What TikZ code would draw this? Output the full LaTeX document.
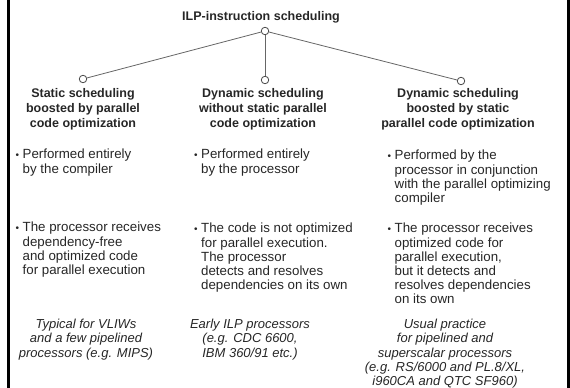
\documentclass[tikz,border=0pt]{standalone}
\usepackage{fontspec}
\setmainfont{Liberation Sans}
\newcommand\bdot{\makebox[7pt][l]{\raisebox{0.6pt}{\scalebox{0.75}{\textbullet}}}}
\newcommand\bind{\hspace*{7pt}}
\tikzset{
  knot/.style={circle,draw=black!70,fill=white,line width=0.8pt,minimum size=7.5pt,inner sep=0pt},
  head/.style={font=\fontsize{12.5}{15}\selectfont\bfseries,text=black!85,align=center,anchor=north,inner sep=0pt},
  point/.style={font=\fontsize{13.3}{14.2}\selectfont,text=black!85,align=left,anchor=north west,inner sep=0pt},
  note/.style={font=\fontsize{13}{14.2}\selectfont\itshape,text=black!85,align=center,anchor=north,inner sep=0pt},
  branch/.style={draw=black!60,line width=0.8pt}
}
\begin{document}
\begin{tikzpicture}[x=1pt,y=-1pt]
    \useasboundingbox (0,0) rectangle (570,388);
    %Frame
    \draw[line width=2.7pt] (8.2,0) -- (8.2,388);
    \draw[line width=3pt] (568.5,0) -- (568.5,388);

    %Nodes
    \node[head] (title) at (261,11.5) {ILP-instruction scheduling};
    \node[knot] (root) at (265,31) {};
    \node[knot] (k1)   at (83,79)  {};
    \node[knot] (k2)   at (265,80) {};
    \node[knot] (k3)   at (461,81) {};
    \node[head] (h1) at (83,88.5)  {Static scheduling\\boosted by parallel\\code optimization};
    \node[head] (h2) at (263,88.5) {Dynamic scheduling\\without static parallel\\code optimization};
    \node[head] (h3) at (458,88.5) {Dynamic scheduling\\boosted by static\\parallel code optimization};

    \node[point] (p1a) at (15.5,149)  {\bdot Performed entirely\\\bind by the compiler};
    \node[point] (p1b) at (15.5,222)  {\bdot The processor receives\\\bind dependency-free\\\bind and optimized code\\\bind for parallel execution};
    \node[point] (p2a) at (194,149) {\bdot Performed entirely\\\bind by the processor};
    \node[point] (p2b) at (194,223) {\bdot The code is not optimized\\\bind for parallel execution.\\\bind The processor\\\bind detects and resolves\\\bind dependencies on its own};
    \node[point] (p3a) at (387.5,150) {\bdot Performed by the\\\bind processor in conjunction\\\bind with the parallel optimizing\\\bind compiler};
    \node[point] (p3b) at (387.5,223) {\bdot The processor receives\\\bind optimized code for\\\bind parallel execution,\\\bind but it detects and\\\bind resolves dependencies\\\bind on its own};

    \node[note] (n1) at (86,319)  {Typical for VLIWs\\and a few pipelined\\processors (e.g. MIPS)};
    \node[note] (n2) at (250,319) {Early ILP processors\\(e.g. CDC 6600,\\IBM 360/91 etc.)};
    \node[note] (n3) at (445,319) {Usual practice\\for pipelined and\\superscalar processors\\(e.g. RS/6000 and PL.8/XL,\\i960CA and QTC SF960)};

    %Lines
    \draw[branch] (root) -- (k1);
    \draw[branch] (root) -- (k2);
    \draw[branch] (root) -- (k3);
\end{tikzpicture}
\end{document}
